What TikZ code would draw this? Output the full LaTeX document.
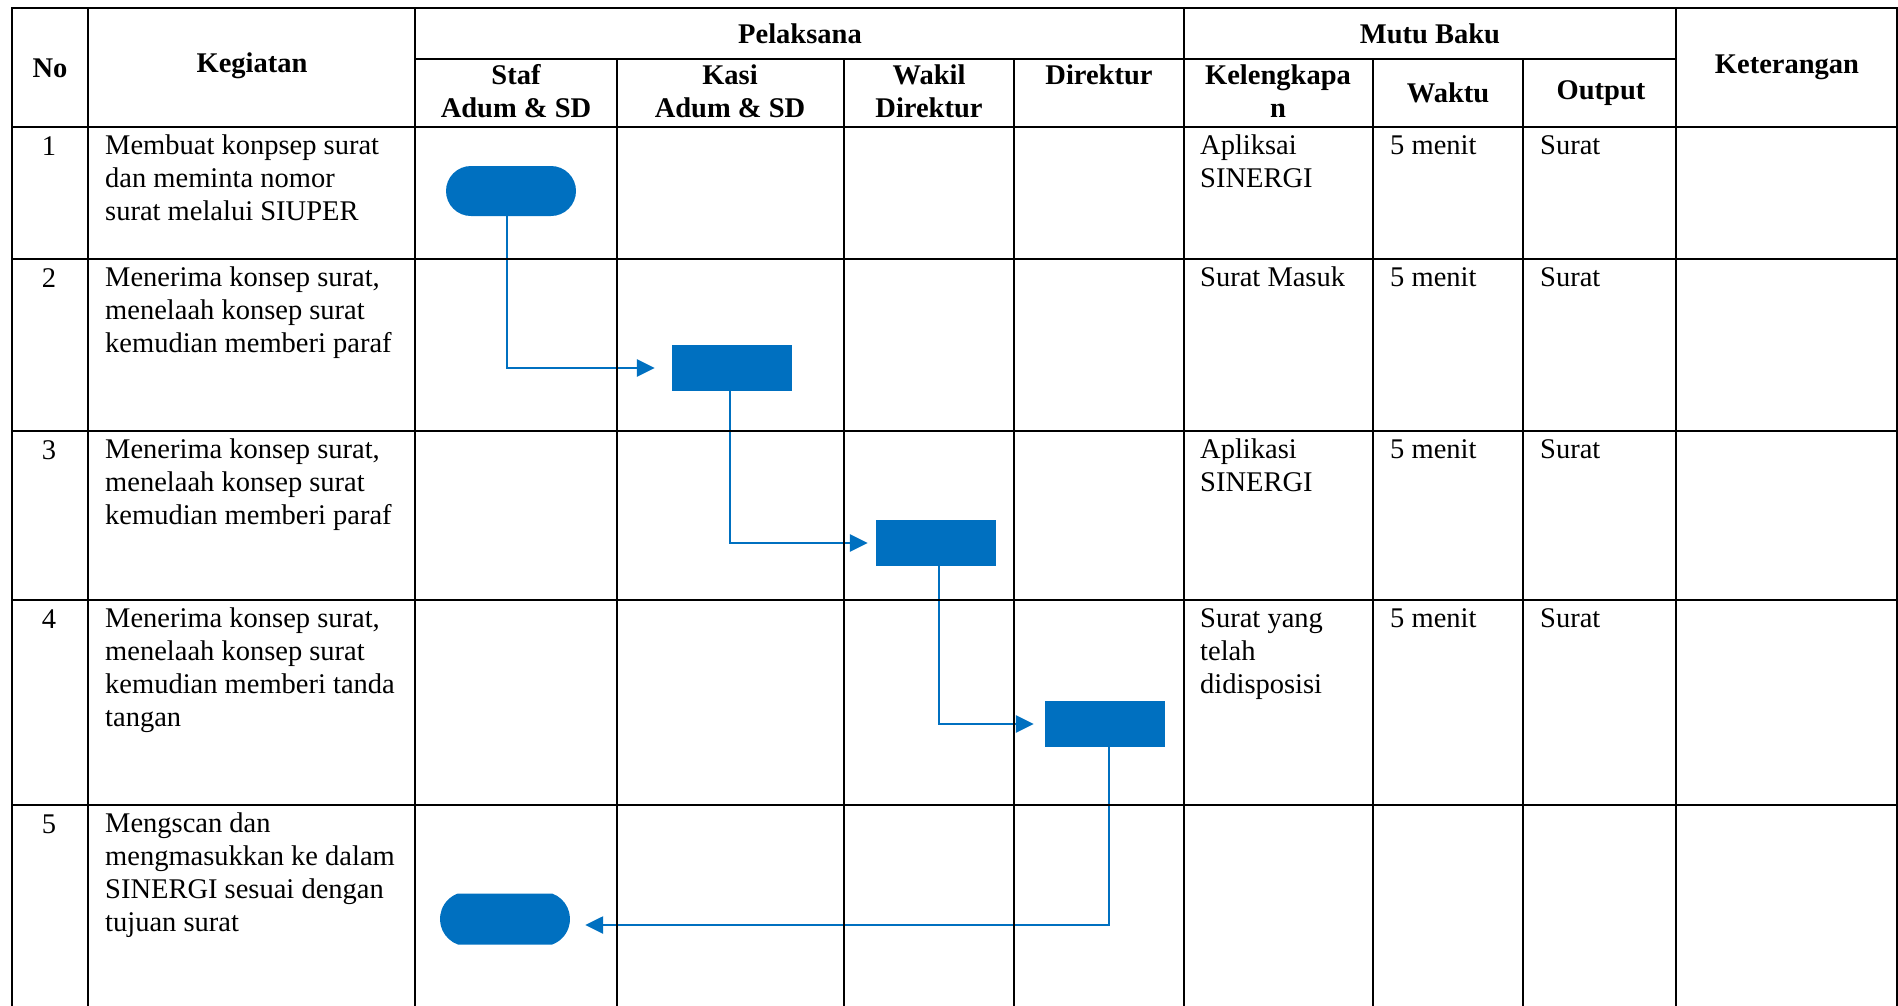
\documentclass[tikz,border=0pt]{standalone}
\usepackage{fontspec}
\setmainfont{Liberation Serif}
\usepackage{tikz}
\usetikzlibrary{arrows.meta, shapes.misc}

\definecolor{flowblue}{HTML}{0070C0}
\newcommand{\tabfont}{\fontsize{28.5}{33}\selectfont}

\begin{document}
\begin{tikzpicture}[x=1pt, y=-1pt,
    grid/.style={line width=2.3pt, line cap=rect, black},
    hd/.style={font=\tabfont\bfseries, align=center, inner sep=0pt},
    num/.style={font=\tabfont, anchor=base, inner sep=0pt},
    cell/.style={font=\tabfont, text width=300pt, align=flush left, anchor=north west,
                 inner sep=0pt, execute at begin node=\noindent\strut},
    act/.style={fill=flowblue, minimum width=120pt, minimum height=46pt, inner sep=0pt},
    term/.style={rounded rectangle, fill=flowblue, minimum width=130pt, minimum height=50pt, inner sep=0pt},
    flow/.style={draw=flowblue, line width=2.6pt, -{Triangle[length=18pt, width=17pt]}}]
    \useasboundingbox (0,0) rectangle (1898,1005);

    % header
    \node[hd] (h-no) at (50,68) {No};
    \node[hd] (h-keg) at (252,66) {Kegiatan};
    \node[hd] (h-pel) at (800,34) {Pelaksana};
    \node[hd] (h-mutu) at (1430,34) {Mutu Baku};
    \node[hd] (h-ket) at (1787,67) {Keterangan};
    \node[hd] (h-staf) at (516,91) {Staf\\Adum \& SD};
    \node[hd] (h-kasi) at (730,91) {Kasi\\Adum \& SD};
    \node[hd] (h-wadir) at (929,91) {Wakil\\Direktur};
    \node[hd] (h-dir) at (1099,75) {Direktur};
    \node[hd] (h-kel) at (1278,91) {Kelengkapa\\n};
    \node[hd] (h-waktu) at (1448,93) {Waktu};
    \node[hd] (h-out) at (1601,93) {Output};

    % row numbers
    \foreach \ry/\no in {127/1, 259/2, 431/3, 600/4, 805/5}
        \node[num] (no-\no) at (49,\ry+28) {\no};

    % activities
    \node[cell] (keg-1) at (105,131) {Membuat konpsep surat\\dan meminta nomor\\surat melalui SIUPER};
    \node[cell] (keg-2) at (105,263) {Menerima konsep surat,\\menelaah konsep surat\\kemudian memberi paraf};
    \node[cell] (keg-3) at (105,435) {Menerima konsep surat,\\menelaah konsep surat\\kemudian memberi paraf};
    \node[cell] (keg-4) at (105,604) {Menerima konsep surat,\\menelaah konsep surat\\kemudian memberi tanda\\tangan};
    \node[cell] (keg-5) at (105,809) {Mengscan dan\\mengmasukkan ke dalam\\SINERGI sesuai dengan\\tujuan surat};

    % mutu baku
    \node[cell] (kel-1) at (1200,131) {Apliksai\\SINERGI};
    \node[cell] (kel-2) at (1200,263) {Surat Masuk};
    \node[cell] (kel-3) at (1200,435) {Aplikasi\\SINERGI};
    \node[cell] (kel-4) at (1200,604) {Surat yang\\telah\\didisposisi};
    \foreach \ry/\no in {131/1, 263/2, 435/3, 604/4} {
        \node[cell] (wkt-\no) at (1390,\ry) {5 menit};
        \node[cell] (out-\no) at (1540,\ry) {Surat};
    }

    % flow
    \node[term] (mulai) at (511,191) {};
    \node[act] (kasi) at (732,368) {};
    \node[act] (wadir) at (936,543) {};
    \node[act] (dir) at (1105,724) {};
    \node[term, rounded rectangle arc length=140, minimum height=51pt] (selesai) at (505,919) {};

    \draw[flow, shorten >=17pt] ([xshift=-4pt]mulai.south) |- (kasi);
    \draw[flow, shorten >=8pt] ([xshift=-2pt]kasi.south) |- (wadir);
    \draw[flow, shorten >=11pt] ([xshift=3pt]wadir.south) |- (dir);
    \draw[flow, shorten >=15pt] ([xshift=4pt]dir.south) |- ([yshift=-6pt]selesai.east);

    % table lines
    \foreach \y in {8, 127, 259, 431, 600, 805}
        \draw[grid] (12,\y) -- (1897,\y);
    \draw[grid] (415,59) -- (1676,59);
    \foreach \x in {12, 88, 415, 1184, 1676, 1897}
        \draw[grid] (\x,8) -- (\x,1010);
    \foreach \x in {617, 844, 1014, 1373, 1523}
        \draw[grid] (\x,59) -- (\x,1010);
\end{tikzpicture}
\end{document}
